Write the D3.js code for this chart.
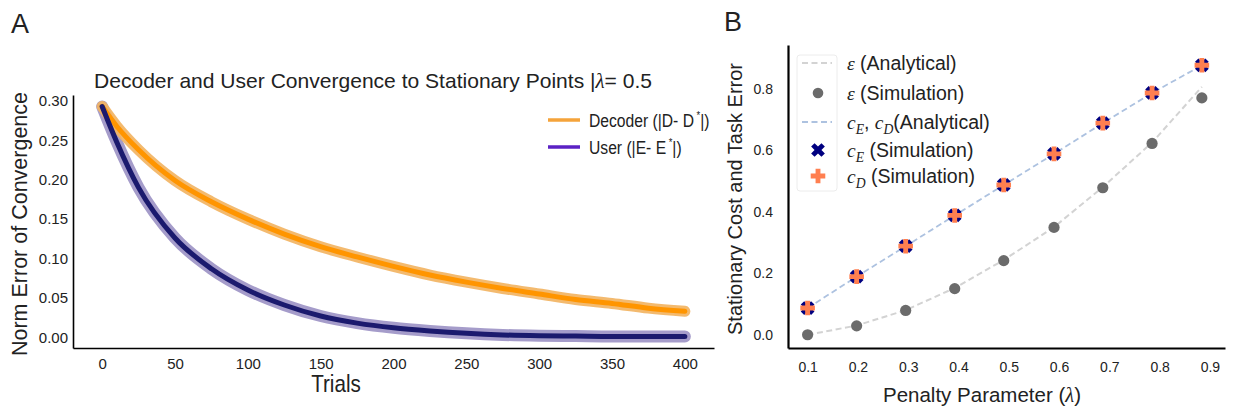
<!DOCTYPE html>
<html>
<head>
<meta charset="utf-8">
<script src="https://cdn.jsdelivr.net/npm/d3@7"></script>
<style>
  body { margin: 0; background: #fff; }
  text { font-family: "Liberation Sans", Arial, sans-serif; fill: #222; }
</style>
</head>
<body>
<div id="chart"></div>
<script>
// ---- panel A data ----
const trials = [0, 10, 25, 50, 75, 100, 125, 150, 175, 200, 225, 250, 275, 300, 325, 350, 375, 400];
const decoderErr = [0.293, 0.268, 0.238, 0.199, 0.172, 0.150, 0.131, 0.115, 0.102, 0.090, 0.079, 0.070, 0.062, 0.055, 0.048, 0.043, 0.037, 0.033];
const userErr = [0.293, 0.248, 0.190, 0.126, 0.087, 0.060, 0.041, 0.027, 0.018, 0.012, 0.008, 0.005, 0.003, 0.002, 0.0015, 0.001, 0.001, 0.001];
const xTicksA = [0, 50, 100, 150, 200, 250, 300, 350, 400];
const yTicksA = [0, 0.05, 0.10, 0.15, 0.20, 0.25, 0.30];

// ---- panel B data ----
const lambdas = [0.1, 0.1975, 0.295, 0.3925, 0.49, 0.59, 0.687, 0.785, 0.884];
const epsAnalytical = [0.0, 0.03, 0.08, 0.152, 0.243, 0.35, 0.48, 0.625, 0.806];
const epsSim = [0.0, 0.029, 0.079, 0.150, 0.241, 0.349, 0.478, 0.622, 0.770];
const costAnalytical = [0.087, 0.189, 0.288, 0.388, 0.487, 0.588, 0.688, 0.786, 0.876];
const costE = [0.087, 0.189, 0.288, 0.388, 0.487, 0.588, 0.688, 0.786, 0.876];
const costD = [0.087, 0.189, 0.288, 0.388, 0.487, 0.588, 0.688, 0.786, 0.876];
const xTicksB = [0.1, 0.2, 0.3, 0.4, 0.5, 0.6, 0.7, 0.8, 0.9];
const yTicksB = [0.0, 0.2, 0.4, 0.6, 0.8];

const W = 1239, H = 414;
const svg = d3.select("#chart").append("svg")
  .attr("width", W).attr("height", H)
  .style("background", "#fff");

// text with math bits; squeeze < 1 narrows it like the left panel's lettering
function richText(g, x, y, parts, size, anchor, squeeze) {
  const t = g.append("text")
    .attr("font-size", size).attr("text-anchor", anchor || "start");
  if (squeeze) t.attr("transform", `translate(${x},${y}) scale(${squeeze},1)`);
  else t.attr("x", x).attr("y", y);
  parts.forEach(p => {
    const s = t.append("tspan").text(p.t);
    if (p.math) s.style("font-family", '"Liberation Serif", serif').style("font-style", "italic");
    if (p.sub) s.attr("dy", 5).attr("font-size", size * 0.7);
    if (p.sup) s.attr("dy", -8).attr("dx", 3).attr("font-size", size * 0.6);
    if (p.back) s.attr("dy", p.back);
  });
  return t;
}

// =============== panel A ===============
const xA = d3.scaleLinear().domain([-20, 420]).range([73, 714]);
const yA = d3.scaleLinear().domain([-0.0136, 0.3076]).range([348, 95]);
const gA = svg.append("g");

svg.append("text").attr("x", 11).attr("y", 33).attr("font-size", 27).text("A");

richText(gA, 373, 88, [
  { t: "Decoder and User Convergence to Stationary Points |" },
  { t: "λ", math: true },
  { t: "= 0.5" }
], 21, "middle").attr("textLength", 558).attr("lengthAdjust", "spacingAndGlyphs");

const lineA = d3.line().curve(d3.curveMonotoneX);
const decPts = trials.map((t, i) => [xA(t), yA(decoderErr[i])]);
const usrPts = trials.map((t, i) => [xA(t), yA(userErr[i])]);

gA.append("path").attr("d", lineA(usrPts)).attr("fill", "none")
  .attr("stroke", "#a59cca").attr("stroke-width", 12).attr("stroke-linecap", "round").attr("stroke-linejoin", "round");
gA.append("path").attr("d", lineA(decPts)).attr("fill", "none")
  .attr("stroke", "#f2b463").attr("stroke-width", 11).attr("stroke-linecap", "round").attr("stroke-linejoin", "round").attr("opacity", 0.92);
gA.append("path").attr("d", lineA(decPts)).attr("fill", "none")
  .attr("stroke", "#ff9500").attr("stroke-width", 5).attr("stroke-linecap", "round");
gA.append("path").attr("d", lineA(usrPts)).attr("fill", "none")
  .attr("stroke", "#1b1a6e").attr("stroke-width", 5).attr("stroke-linecap", "round");

const axA_x = gA.append("g").attr("transform", "translate(0,348)")
  .call(d3.axisBottom(xA).tickValues(xTicksA).tickSize(0).tickPadding(10).tickSizeOuter(0));
const axA_y = gA.append("g").attr("transform", "translate(73,0)")
  .call(d3.axisLeft(yA).tickValues(yTicksA).tickFormat(d3.format(".2f")).tickSize(0).tickPadding(5).tickSizeOuter(0));
[axA_x, axA_y].forEach(a => {
  a.select(".domain").attr("stroke", "#000").attr("stroke-width", 1.6);
  a.selectAll("text").attr("font-size", 15).style("font-family", '"Liberation Sans", Arial, sans-serif').attr("fill", "#222");
});

gA.append("text").attr("transform", "translate(336,392) scale(0.86,1)").attr("text-anchor", "middle")
  .attr("font-size", 24).text("Trials");
gA.append("text").attr("transform", "translate(27,224) rotate(-90)")
  .attr("text-anchor", "middle").attr("font-size", 21.5).text("Norm Error of Convergence");

// legend A
const legA = [
  { c: "#f5a33a", parts: [{ t: "Decoder (|D- D" }, { t: "*", sup: true }, { t: "|)", back: 8 }] },
  { c: "#5b22c4", parts: [{ t: "User (|E- E" }, { t: "*", sup: true }, { t: "|)", back: 8 }] }
];
legA.forEach((d, i) => {
  const y = 120 + i * 27;
  gA.append("line").attr("x1", 548).attr("x2", 580).attr("y1", y).attr("y2", y)
    .attr("stroke", d.c).attr("stroke-width", 3.5);
  richText(gA, 589, y + 6.5, d.parts, 18, "start", 0.87);
});

// =============== panel B ===============
const xB = d3.scaleLinear().domain([0.061, 0.93]).range([788, 1225]);
const yB = d3.scaleLinear().domain([-0.043, 0.942]).range([348, 45]);
const gB = svg.append("g");

svg.append("text").attr("x", 724).attr("y", 31).attr("font-size", 27).text("B");

const lineB = d3.line();
gB.append("path").attr("d", lineB(lambdas.map((l, i) => [xB(l), yB(epsAnalytical[i])])))
  .attr("fill", "none").attr("stroke", "#d3d3d3").attr("stroke-width", 2).attr("stroke-dasharray", "6,3.5");
gB.append("path").attr("d", lineB(lambdas.map((l, i) => [xB(l), yB(costAnalytical[i])])))
  .attr("fill", "none").attr("stroke", "#adc2e0").attr("stroke-width", 1.8).attr("stroke-dasharray", "6,3.5");

gB.selectAll("circle.eps").data(lambdas).join("circle").attr("class", "eps")
  .attr("cx", d => xB(d)).attr("cy", (d, i) => yB(epsSim[i])).attr("r", 5.6).attr("fill", "#6b6b6b");

const crossSym = d3.symbol().type(d3.symbolCross).size(118);
gB.selectAll("path.ce").data(lambdas).join("path").attr("class", "ce")
  .attr("d", crossSym)
  .attr("transform", (d, i) => `translate(${xB(d)},${yB(costE[i])}) rotate(45)`)
  .attr("fill", "#000080");
gB.selectAll("path.cd").data(lambdas).join("path").attr("class", "cd")
  .attr("d", crossSym)
  .attr("transform", (d, i) => `translate(${xB(d)},${yB(costD[i])})`)
  .attr("fill", "#ff7f50");

const axB_x = gB.append("g").attr("transform", "translate(0,348)")
  .call(d3.axisBottom(xB).tickValues(xTicksB).tickFormat(d3.format(".1f")).tickSize(0).tickPadding(14).tickSizeOuter(0));
const axB_y = gB.append("g").attr("transform", "translate(788,0)")
  .call(d3.axisLeft(yB).tickValues(yTicksB).tickFormat(d3.format(".1f")).tickSize(0).tickPadding(15).tickSizeOuter(0));
[axB_x, axB_y].forEach(a => {
  a.select(".domain").attr("stroke", "#000").attr("stroke-width", 2.2);
  a.selectAll("text").attr("font-size", 14).style("font-family", '"Liberation Sans", Arial, sans-serif').attr("fill", "#222");
});

richText(gB, 982, 402, [{ t: "Penalty Parameter (" }, { t: "λ", math: true }, { t: ")" }], 20.5, "middle");
gB.append("text").attr("transform", "translate(742,199) rotate(-90)")
  .attr("text-anchor", "middle").attr("font-size", 20).text("Stationary Cost and Task Error");

// legend B
gB.append("rect").attr("x", 797).attr("y", 55).attr("width", 40).attr("height", 136).attr("rx", 3)
  .attr("fill", "#fff").attr("stroke", "#ececec");
const legB = [
  { kind: "dash", c: "#d3d3d3", parts: [{ t: "ε", math: true }, { t: " (Analytical)" }] },
  { kind: "dot", c: "#6b6b6b", parts: [{ t: "ε", math: true }, { t: " (Simulation)" }] },
  { kind: "dash", c: "#adc2e0", parts: [{ t: "c", math: true }, { t: "E", math: true, sub: true }, { t: ", ", back: -5 }, { t: "c", math: true }, { t: "D", math: true, sub: true }, { t: "(Analytical)", back: -5 }] },
  { kind: "x", c: "#000080", parts: [{ t: "c", math: true }, { t: "E", math: true, sub: true }, { t: " (Simulation)", back: -5 }] },
  { kind: "plus", c: "#ff7f50", parts: [{ t: "c", math: true }, { t: "D", math: true, sub: true }, { t: " (Simulation)", back: -5 }] }
];
const rowY = [63, 93, 122, 150, 176];
legB.forEach((d, i) => {
  const y = rowY[i];
  if (d.kind === "dash") {
    gB.append("line").attr("x1", 802).attr("x2", 832).attr("y1", y).attr("y2", y)
      .attr("stroke", d.c).attr("stroke-width", 2).attr("stroke-dasharray", "6,3.5");
  } else if (d.kind === "dot") {
    gB.append("circle").attr("cx", 818).attr("cy", y).attr("r", 5.3).attr("fill", d.c);
  } else {
    gB.append("path").attr("d", crossSym)
      .attr("transform", `translate(818,${y})` + (d.kind === "x" ? " rotate(45)" : ""))
      .attr("fill", d.c);
  }
  richText(gB, 847, y + 7, d.parts, 19.5);
});
</script>
</body>
</html>
